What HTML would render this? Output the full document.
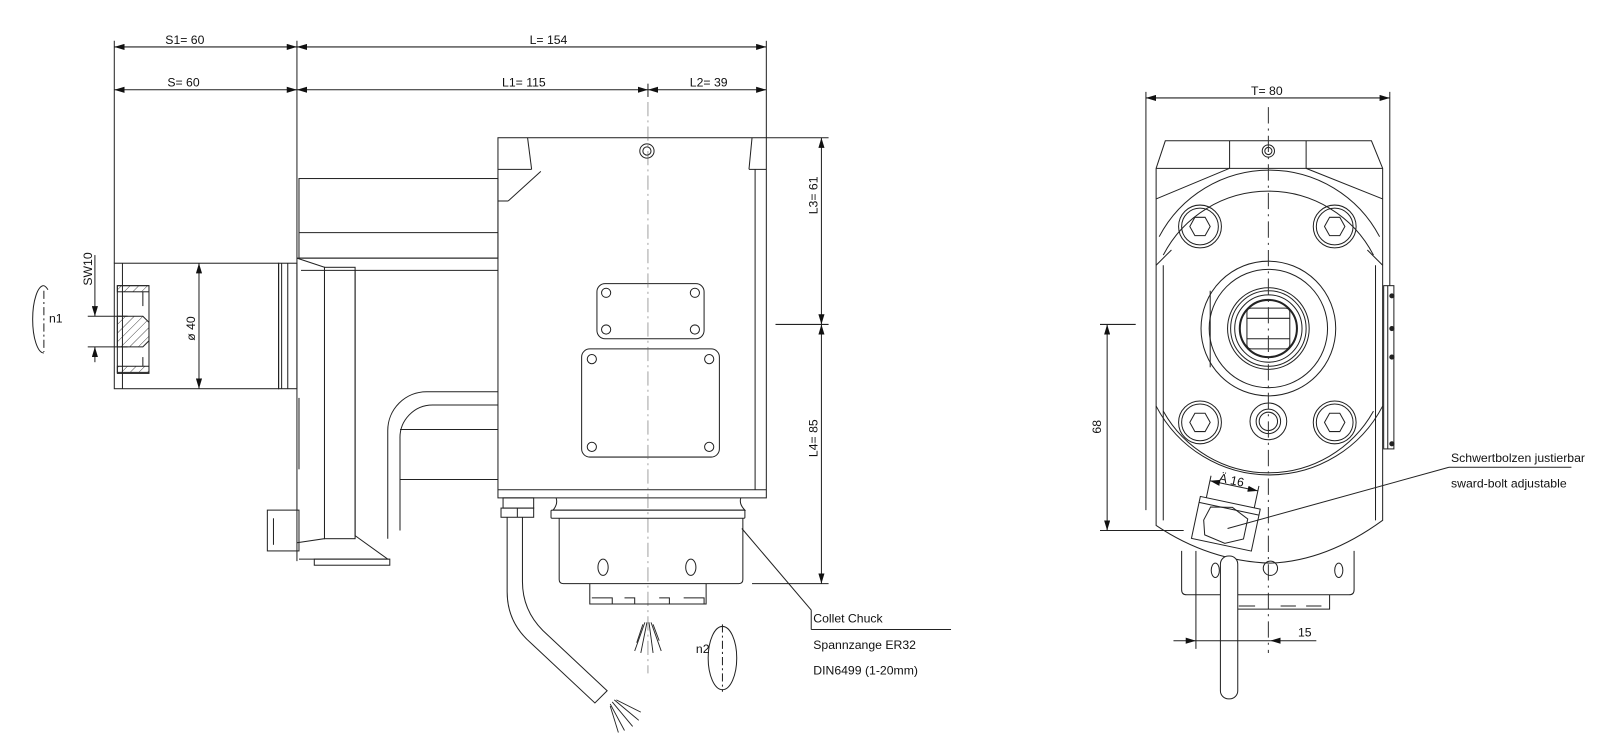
<!DOCTYPE html>
<html><head><meta charset="utf-8"><style>
html,body{margin:0;padding:0;background:#fff}
svg{display:block}
text{font-family:"Liberation Sans Narrow","Liberation Sans",sans-serif;font-size:12px;fill:#111}
</style></head><body>
<svg width="1600" height="756" viewBox="0 0 1568 741" preserveAspectRatio="none" xmlns="http://www.w3.org/2000/svg">
<defs>
<marker id="a" viewBox="0 0 10 6" refX="10" refY="3" markerWidth="10" markerHeight="6" orient="auto-start-reverse" markerUnits="userSpaceOnUse"><path d="M0,0 L10,3 L0,6z" fill="#111"/></marker>
<pattern id="h" width="6" height="6" patternUnits="userSpaceOnUse" patternTransform="rotate(45)"><line x1="0" y1="0" x2="0" y2="6" stroke="#222" stroke-width="0.8"/></pattern>
</defs>
<g stroke="#222" stroke-width="1" fill="none">
<line x1="112" y1="40" x2="112" y2="258"/>
<line x1="291" y1="40" x2="291" y2="175"/>
<line x1="751" y1="40" x2="751" y2="135"/>
<line x1="635" y1="82" x2="635" y2="95"/>
<line x1="112" y1="46" x2="291" y2="46" marker-start="url(#a)" marker-end="url(#a)"/>
<line x1="291" y1="46" x2="751" y2="46" marker-start="url(#a)" marker-end="url(#a)"/>
<line x1="112" y1="88" x2="291" y2="88" marker-start="url(#a)" marker-end="url(#a)"/>
<line x1="291" y1="88" x2="635" y2="88" marker-start="url(#a)" marker-end="url(#a)"/>
<line x1="635" y1="88" x2="751" y2="88" marker-start="url(#a)" marker-end="url(#a)"/>

<rect x="112" y="258" width="161" height="123"/>
<line x1="120" y1="258" x2="120" y2="381"/>
<line x1="273" y1="258" x2="273" y2="381"/><line x1="276" y1="258" x2="276" y2="381"/>
<line x1="282" y1="258" x2="282" y2="381"/>
<rect x="273" y="258" width="18" height="123"/>
<rect x="115" y="280" width="31" height="86"/>
<rect x="115" y="280" width="31" height="6" fill="url(#h)"/>
<rect x="115" y="359" width="31" height="6" fill="url(#h)"/>
<path d="M115,310 H140 L146,316 V334 L140,340 H115Z" fill="url(#h)"/>
<line x1="140" y1="286" x2="140" y2="300"/><line x1="140" y1="350" x2="140" y2="359"/>
<line x1="195" y1="258" x2="195" y2="381" marker-start="url(#a)" marker-end="url(#a)"/>
<line x1="86" y1="310" x2="125" y2="310"/><line x1="86" y1="340" x2="125" y2="340"/>
<line x1="93" y1="250" x2="93" y2="310" marker-end="url(#a)"/>
<line x1="93" y1="340" x2="93" y2="355" marker-start="url(#a)"/>
<path d="M43,280 A11,33 0 0 0 43,346"/><path d="M43,280 A11,33 0 0 1 47,284" />
<line x1="43" y1="285" x2="43" y2="345" stroke-dasharray="8,3,2,3"/>

<rect x="293" y="175" width="195" height="78"/>
<line x1="293" y1="228" x2="488" y2="228"/>
<line x1="291" y1="253" x2="488" y2="253"/>
<line x1="291" y1="175" x2="291" y2="550"/>
<line x1="295" y1="265" x2="488" y2="265"/>
<path d="M291,253 L318,262 V528 L291,532"/>
<rect x="318" y="262" width="30" height="266"/>
<path d="M348,265 V525 L380,548 H293"/>
<path d="M380,528 V422 A38,38 0 0 1 418,384 H488"/>
<path d="M392,520 V430 A32,32 0 0 1 424,397 H488"/>
<line x1="392" y1="421" x2="488" y2="421"/>
<line x1="392" y1="470" x2="488" y2="470"/>
<rect x="308" y="548" width="74" height="6"/>
<rect x="262" y="500" width="31" height="40"/>
<line x1="268" y1="508" x2="268" y2="534"/>
<line x1="293" y1="390" x2="293" y2="460"/>

<rect x="488" y="135" width="263" height="353"/>
<line x1="488" y1="166" x2="521" y2="166"/>
<line x1="517" y1="135" x2="521" y2="166"/>
<line x1="498" y1="197" x2="530" y2="168"/>
<line x1="488" y1="197" x2="498" y2="197"/>
<line x1="737" y1="135" x2="734" y2="166"/>
<line x1="734" y1="166" x2="751" y2="166"/>
<line x1="740" y1="166" x2="740" y2="480"/>
<line x1="488" y1="480" x2="751" y2="480"/>
<circle cx="634" cy="148" r="7"/><circle cx="634" cy="148" r="4"/>
<rect x="585" y="278" width="105" height="54" rx="8"/>
<circle cx="594" cy="287" r="4.5"/><circle cx="681" cy="287" r="4.5"/>
<circle cx="594" cy="323" r="4.5"/><circle cx="681" cy="323" r="4.5"/>
<rect x="570" y="342" width="135" height="106" rx="8"/>
<circle cx="580" cy="352" r="4.5"/><circle cx="695" cy="352" r="4.5"/>
<circle cx="580" cy="438" r="4.5"/><circle cx="695" cy="438" r="4.5"/>
<line x1="635" y1="100" x2="635" y2="660" stroke="#666" stroke-width="0.6" stroke-dasharray="14,4,2,4"/>

<path d="M545,488 Q547,494 542,500 H730 Q724,494 726,488"/>
<rect x="540" y="500" width="190" height="8" rx="1"/>
<path d="M548,508 V568 Q548,572 552,572 H724 Q728,572 728,568 V508"/>
<ellipse cx="591" cy="556" rx="5" ry="8"/>
<ellipse cx="677" cy="556" rx="5" ry="8"/>
<path d="M578,572 V592 H692 V572"/>
<path d="M580,586 H600 V592 M612,586 H622 V592 M646,586 H656 V592 M670,586 H690 V592"/>
<g stroke-width="0.9"><line x1="632" y1="610" x2="622" y2="638"/><line x1="634" y1="610" x2="628" y2="640"/><line x1="636" y1="610" x2="640" y2="640"/><line x1="638" y1="610" x2="648" y2="638"/><line x1="630" y1="612" x2="624" y2="630"/><line x1="640" y1="612" x2="646" y2="628"/></g>
<path d="M708,614 A14,31 0 0 1 708,676 A14,31 0 0 1 708,614"/>
<line x1="708" y1="612" x2="708" y2="678" stroke-dasharray="8,3,2,3"/>
<rect x="493" y="488" width="30" height="10"/>
<rect x="491" y="498" width="32" height="9"/>
<line x1="507" y1="498" x2="507" y2="507"/>
<path d="M497,507 V580 Q497,610 520,630 L583,689 L595,677 L532,618 Q512,598 512,570 V507"/>
<g stroke-width="0.9"><line x1="598" y1="690" x2="612" y2="716"/><line x1="600" y1="688" x2="620" y2="712"/><line x1="602" y1="686" x2="626" y2="706"/><line x1="598" y1="692" x2="606" y2="718"/><line x1="604" y1="686" x2="628" y2="698"/></g>
<line x1="727" y1="518" x2="795" y2="598"/>
<line x1="795" y1="617" x2="932" y2="617"/>
<line x1="795" y1="598" x2="795" y2="617"/>

<line x1="751" y1="135" x2="812" y2="135"/>
<line x1="760" y1="318" x2="812" y2="318"/>
<line x1="737" y1="572" x2="812" y2="572"/>
<line x1="805" y1="135" x2="805" y2="318" marker-start="url(#a)" marker-end="url(#a)"/>
<line x1="805" y1="318" x2="805" y2="572" marker-start="url(#a)" marker-end="url(#a)"/>

<line x1="1123" y1="90" x2="1123" y2="500"/>
<line x1="1362" y1="90" x2="1362" y2="290"/>
<line x1="1123" y1="96" x2="1362" y2="96" marker-start="url(#a)" marker-end="url(#a)"/>
<path d="M1142,138 H1344 L1355,165 V510 Q1300,550 1245,552 Q1185,550 1133,515 V165 Z"/>
<line x1="1133" y1="165" x2="1355" y2="165"/>
<line x1="1205" y1="138" x2="1205" y2="165"/><line x1="1280" y1="138" x2="1280" y2="165"/>
<line x1="1133" y1="195" x2="1205" y2="165"/><line x1="1355" y1="195" x2="1280" y2="165"/>
<line x1="1140" y1="260" x2="1140" y2="510"/><line x1="1348" y1="260" x2="1348" y2="510"/>
<path d="M1136,232 A122,122 0 0 1 1352,232"/>
<path d="M1140,250 A116,116 0 0 1 1346,250"/>
<path d="M1133,260 L1148,245"/><path d="M1355,260 L1340,245"/>
<path d="M1133,398 A125,125 0 0 0 1355,398"/>
<path d="M1140,403 A118,118 0 0 0 1346,403"/>
<rect x="1356" y="280" width="10" height="160" fill="#fff"/>
<line x1="1360" y1="280" x2="1360" y2="440"/>
<circle cx="1364" cy="290" r="2" fill="#222"/><circle cx="1364" cy="322" r="2" fill="#222"/><circle cx="1364" cy="350" r="2" fill="#222"/><circle cx="1364" cy="435" r="2" fill="#222"/>
<g id="b">
<circle cx="1176" cy="222" r="21"/><circle cx="1176" cy="222" r="18"/>
<polygon points="1166,222 1171,213 1181,213 1186,222 1181,231 1171,231"/>
</g>
<use href="#b" x="132"/><use href="#b" y="192"/><use href="#b" x="132" y="192"/>
<circle cx="1243" cy="413" r="18"/><circle cx="1243" cy="413" r="12"/><circle cx="1243" cy="413" r="9"/>
<circle cx="1243" cy="322" r="66"/><circle cx="1243" cy="322" r="58"/>
<circle cx="1243" cy="322" r="40"/><circle cx="1243" cy="322" r="37"/><circle cx="1243" cy="322" r="33"/><circle cx="1243" cy="322" r="28" stroke-width="2"/>
<rect x="1222" y="302" width="42" height="40" rx="4"/>
<line x1="1222" y1="312" x2="1264" y2="312"/><line x1="1222" y1="332" x2="1264" y2="332"/>
<line x1="1186" y1="285" x2="1186" y2="360"/>
<circle cx="1243" cy="148" r="6"/><circle cx="1243" cy="148" r="3.5"/>
<line x1="1243" y1="105" x2="1243" y2="640" stroke="#333" stroke-dasharray="16,5,2,5"/>
<path d="M1158,540 V578 Q1158,583 1163,583 H1322 Q1327,583 1327,578 V540"/>
<ellipse cx="1191" cy="559" rx="4" ry="7"/>
<ellipse cx="1312" cy="559" rx="4" ry="7"/>
<circle cx="1245" cy="557" r="7"/>
<path d="M1210,583 V597 H1303 V583"/>
<path d="M1214,594 H1230 M1255,594 H1270 M1280,594 H1295"/>
<rect x="1196" y="545" width="17" height="140" rx="8" fill="#fff"/>
<g transform="rotate(12 1200 510)">
<rect x="1172" y="492" width="60" height="42" fill="#fff"/>
<line x1="1172" y1="498" x2="1232" y2="498"/>
<polygon points="1184,500 1205,496 1222,504 1222,524 1205,532 1184,528 1180,514"/>
<line x1="1178" y1="492" x2="1178" y2="470"/><line x1="1226" y1="492" x2="1226" y2="470"/>
<line x1="1178" y1="475" x2="1226" y2="475" marker-start="url(#a)" marker-end="url(#a)"/>
</g>
<line x1="1203" y1="518" x2="1420" y2="458"/>
<line x1="1420" y1="458" x2="1540" y2="458"/>
<line x1="1078" y1="318" x2="1113" y2="318"/>
<line x1="1078" y1="520" x2="1160" y2="520"/>
<line x1="1085" y1="318" x2="1085" y2="520" marker-start="url(#a)" marker-end="url(#a)"/>
<line x1="1172" y1="540" x2="1172" y2="636"/>
<line x1="1150" y1="628" x2="1172" y2="628" marker-end="url(#a)"/>
<line x1="1245" y1="628" x2="1290" y2="628" marker-start="url(#a)"/>
<line x1="1172" y1="628" x2="1245" y2="628"/>
</g>

<text x="162" y="43">S1=  60</text>
<text x="519" y="43">L= 154</text>
<text x="164" y="85">S= 60</text>
<text x="492" y="85">L1=  115</text>
<text x="676" y="85">L2=  39</text>
<text transform="translate(90,280) rotate(-90)">SW10</text>
<text transform="translate(191,334) rotate(-90)">ø  40</text>
<text x="48" y="316">n1</text>
<text x="682" y="640">n2</text>
<text transform="translate(801,210) rotate(-90)">L3=  61</text>
<text transform="translate(801,448) rotate(-90)">L4=  85</text>
<text x="797" y="610">Collet Chuck</text>
<text x="797" y="636">Spannzange ER32</text>
<text x="797" y="661">DIN6499 (1-20mm)</text>
<text x="1226" y="93">T=  80</text>
<text transform="translate(1079,425) rotate(-90)">68</text>
<text transform="translate(1194,472) rotate(12)">Ä  16</text>
<text x="1272" y="624">15</text>
<text x="1422" y="453">Schwertbolzen justierbar</text>
<text x="1422" y="478">sward-bolt adjustable</text>
</svg>
</body></html>
